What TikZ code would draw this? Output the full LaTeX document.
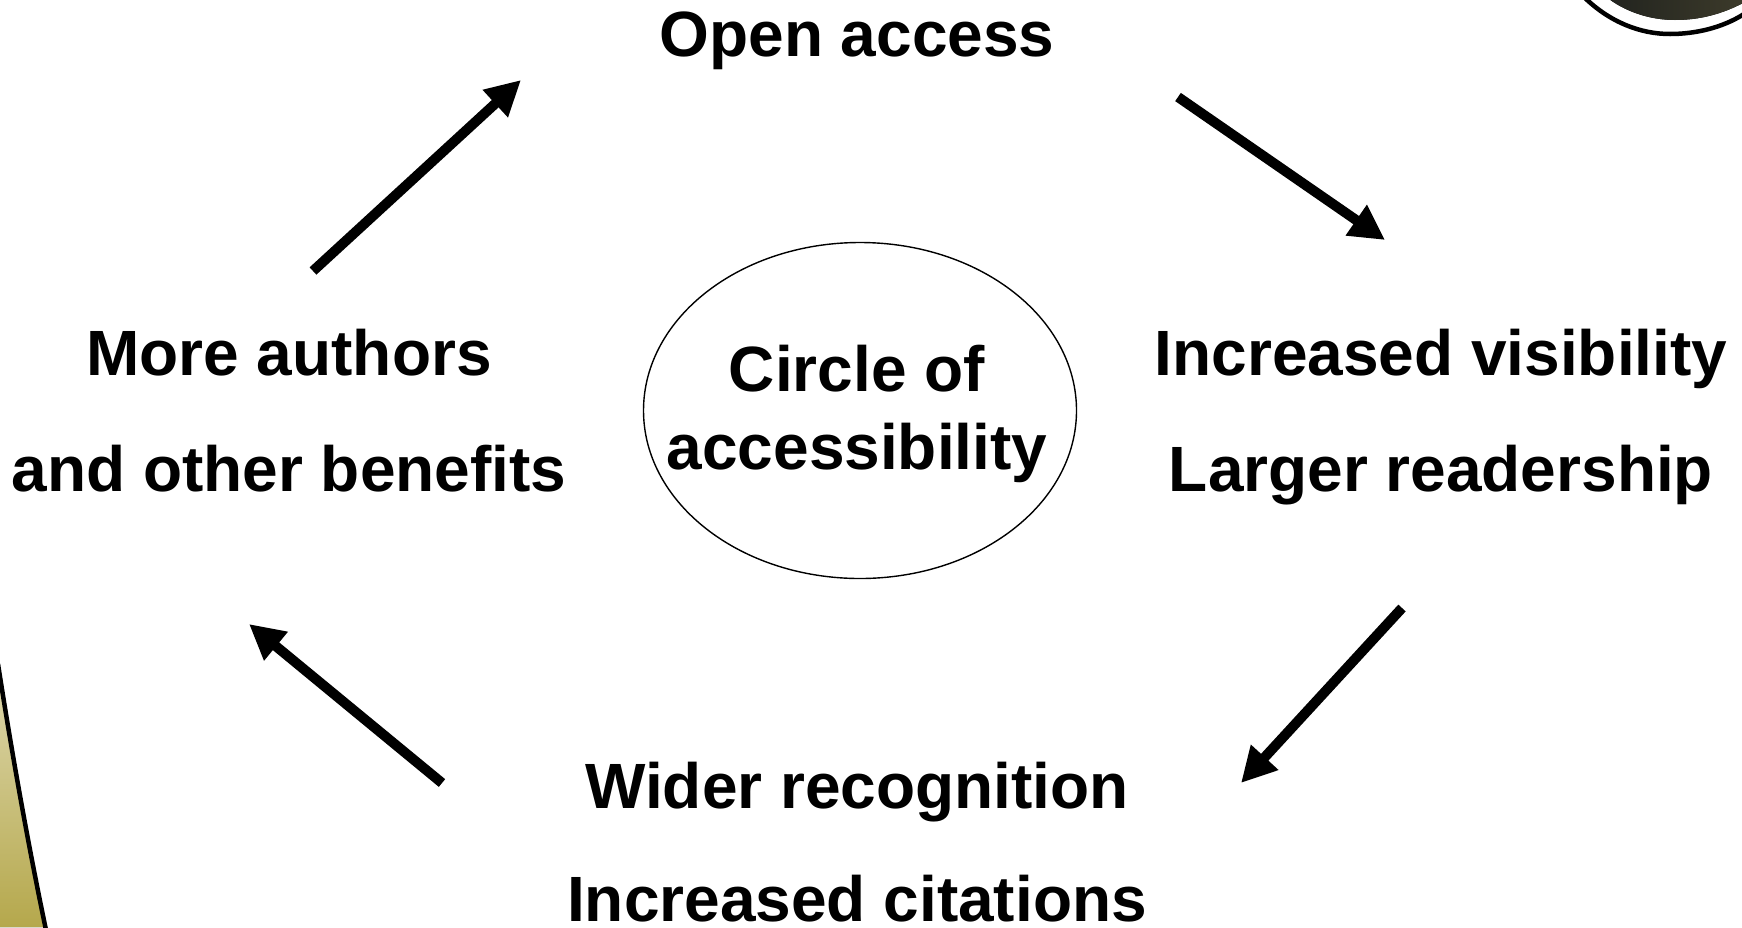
\documentclass[tikz,border=0pt]{standalone}
\usepackage{fontspec}
\setmainfont{Liberation Sans}
\usetikzlibrary{arrows.meta,shapes.geometric}
\definecolor{olivefill}{HTML}{B5A84C}
\definecolor{discdark}{HTML}{22241F}
\definecolor{discolive}{HTML}{3C3A2A}
\tikzset{
  lbl/.style={font=\fontsize{64}{70}\selectfont\bfseries, anchor=base, inner sep=0pt, text=black},
  flow/.style={line width=10pt, draw=black, -{Triangle[length=35pt,width=35pt]}},
}
\begin{document}
\begin{tikzpicture}[x=1pt,y=-1pt]
\useasboundingbox (0,0) rectangle (1742,927);
% corner decorations
\fill[top color=olivefill!45!white,middle color=olivefill,bottom color=olivefill] (-1,668) .. controls (6,715) and (22,815) .. (45,927) -- (-1,927) -- cycle;
\begin{scope}
\clip (0,0) rectangle (1742,927);
\draw[line width=4.5pt,black] (-2,664) .. controls (6,715) and (22,815) .. (46,930);
\draw[line width=4.5pt,black] (1585,-2) .. controls (1610,22) and (1640,34) .. (1670,34) .. controls (1695,34) and (1722,28) .. (1744,14);
\fill[left color=discdark,right color=discolive] (1609,-1) .. controls (1628,13) and (1652,20) .. (1675,20) .. controls (1700,20) and (1722,14) .. (1743,3) -- (1743,-1) -- cycle;
\end{scope}
% texts
\node[lbl] (open) at (857,56) {Open access};
\node[lbl] (vis1) at (1441,375) {Increased visibility};
\node[lbl] (vis2) at (1441,491) {Larger readership};
\node[lbl] (rec1) at (857,808) {Wider recognition};
\node[lbl] (rec2) at (857,921) {Increased citations};
\node[lbl] (auth1) at (289,375) {More authors};
\node[lbl] (auth2) at (289,491) {and other benefits};
\node[draw=black,line width=1.4pt,ellipse,minimum width=433pt,minimum height=336pt,inner sep=0pt] (circ) at (860,410.5) {};
\node[lbl] (c1) at (857,391) {Circle of};
\node[lbl] (c2) at (857,469) {accessibility};
% connectors
\coordinate (a1s) at (1178,97);
\coordinate (a1e) at (1385,240);
\coordinate (a2s) at (1402,608);
\coordinate (a2e) at (1241,783);
\coordinate (a3s) at (442,783);
\coordinate (a3e) at (249,624);
\coordinate (a4s) at (313,271);
\coordinate (a4e) at (521,80);
\draw[flow] (a1s) -- (a1e);
\draw[flow] (a2s) -- (a2e);
\draw[flow] (a3s) -- (a3e);
\draw[flow] (a4s) -- (a4e);
\end{tikzpicture}
\end{document}
